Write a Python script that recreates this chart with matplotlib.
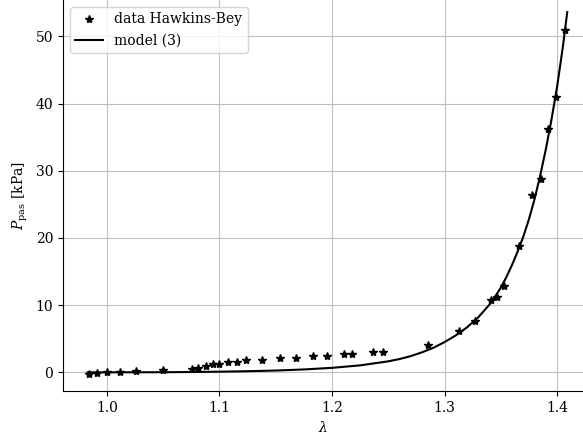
import numpy as np
import matplotlib.pyplot as plt

plt.rcParams['font.family'] = 'DejaVu Serif'
plt.rcParams['mathtext.fontset'] = 'dejavuserif'

lam_data = [0.984, 0.991, 1.000, 1.012, 1.026, 1.050, 1.076, 1.081, 1.088, 1.094,
            1.100, 1.108, 1.116, 1.124, 1.138, 1.154, 1.168, 1.183, 1.196, 1.211,
            1.218, 1.236, 1.245, 1.285, 1.313, 1.327, 1.341, 1.347, 1.353, 1.366,
            1.378, 1.3855, 1.3917, 1.399, 1.407]
p_data = [-0.2, -0.1, 0.0, 0.1, 0.2, 0.4, 0.5, 0.7, 1.0, 1.2,
          1.2, 1.5, 1.5, 1.8, 1.9, 2.1, 2.2, 2.5, 2.5, 2.8,
          2.8, 3.0, 3.0, 4.0, 6.1, 7.7, 10.7, 11.2, 12.8, 18.75,
          26.4, 28.7, 36.2, 40.9, 51.0]

# model curve
lam_model = [0.983, 1.0, 1.025, 1.05, 1.075, 1.1, 1.125, 1.15, 1.175, 1.2,
             1.225, 1.25, 1.26, 1.27, 1.28, 1.29, 1.30, 1.31, 1.32, 1.33,
             1.34, 1.345, 1.35, 1.355, 1.36, 1.365, 1.37, 1.375, 1.38, 1.385,
             1.39, 1.395, 1.40, 1.405, 1.409]
p_model = [0.0, 0.0, 0.01, 0.02, 0.05, 0.10, 0.17, 0.27, 0.43, 0.67,
           1.04, 1.64, 1.98, 2.42, 2.98, 3.65, 4.5, 5.5, 6.7, 8.2,
           10.1, 11.3, 12.6, 14.2, 16.0, 18.0, 20.2, 22.8, 25.8, 29.3,
           33.2, 37.6, 42.5, 48.3, 53.6]

fig = plt.figure(figsize=(5.83, 4.41), dpi=100)
ax = fig.add_axes([0.108, 0.113, 0.892, 0.887])

ax.plot(lam_data, p_data, '*', color='black', markersize=6, label='data Hawkins-Bey')
ax.plot(lam_model, p_model, '-', color='black', linewidth=1.5, label='model (3)')

ax.set_xlim(0.961, 1.423)
ax.set_ylim(-2.8, 55.4)
ax.set_xticks([1.0, 1.1, 1.2, 1.3, 1.4])
ax.set_yticks([0, 10, 20, 30, 40, 50])
ax.grid(True, color='#c0c0c0')
ax.set_axisbelow(True)
ax.spines['top'].set_visible(False)
ax.spines['right'].set_visible(False)

ax.set_xlabel(r'$\lambda$')
ax.set_ylabel(r'$P_{\rm pas}$ [kPa]')
ax.legend(loc='upper left')

fig.savefig('out.png', dpi=100)
